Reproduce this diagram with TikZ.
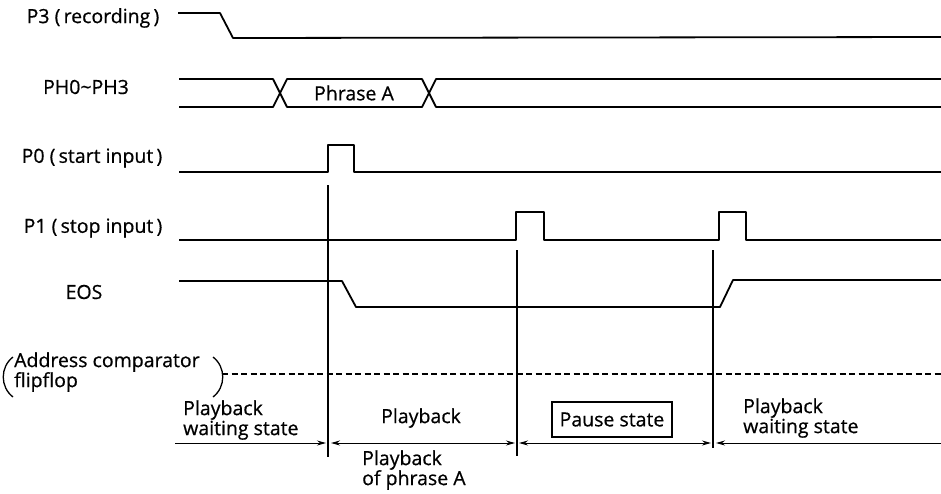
\documentclass[tikz,border=0pt]{standalone}
\usepackage{fontspec}
\setmainfont{Open Sans}[FakeBold=0.6]
\usetikzlibrary{arrows.meta}

\newcommand\lblfont{\fontsize{19.5pt}{20pt}\selectfont}

\tikzset{
  lbl/.style={font=\lblfont, inner sep=0pt},
  signal/.style={line width=1.8pt, line join=round},
  marker/.style={line width=1.3pt},
  span/.style={line width=1pt},
}

\begin{document}
\begin{tikzpicture}[x=1pt, y=-1pt, >={Stealth[length=9pt,width=5pt]}]
    \useasboundingbox (0,0) rectangle (941,493);

    % Signal names
    \node[lbl] (p3) at (93,18) {P3 (\,recording\,)};
    \node[lbl] (ph) at (86,87) {PH0\textasciitilde PH3};
    \node[lbl] (p0) at (92,158) {P0 (\,start input\,)};
    \node[lbl] (p1) at (93,228) {P1 (\,stop input\,)};
    \node[lbl] (eos) at (84,292) {EOS};
    \node[lbl, anchor=west, align=left] (acf) at (14,372) {Address comparator\\flipflop};
    \draw[marker] (13,357) .. controls (0,367) and (0,387) .. (13,397);
    \draw[marker] (213,357) .. controls (226,367) and (226,387) .. (213,397);

    % Waveforms
    \draw[signal] (178,13) -- (220,13) -- (233,38) -- (941,37);
    \draw[signal] (179,79) -- (273,79) -- (287,107) -- (422,107) -- (436,79) -- (941,79);
    \draw[signal] (179,107) -- (273,107) -- (287,79) -- (422,79) -- (436,107) -- (941,107);
    \node[lbl] (phrA) at (354,93) {Phrase A};
    \draw[signal] (179,172) -- (328,172) -- (328,145) -- (354,145) -- (354,172) -- (941,172);
    \draw[signal] (179,240) -- (516,240) -- (516,212) -- (544,212) -- (544,240)
        -- (719,240) -- (719,212) -- (746,212) -- (746,240) -- (941,240);
    \draw[signal] (179,281) -- (342,281) -- (356,307) -- (720,307) -- (733,280) -- (941,280);
    \draw[marker, dash pattern=on 6pt off 3.5pt] (222,374) -- (941,374);

    % Marker lines
    \coordinate (m0) at (328,185);
    \coordinate (m0b) at (328,457);
    \coordinate (m1) at (517,250);
    \coordinate (m1b) at (517,456);
    \coordinate (m2) at (713,250);
    \coordinate (m2b) at (713,448);
    \draw[marker] (m0) -- (m0b);
    \draw[marker] (m1) -- (m1b);
    \draw[marker] (m2) -- (m2b);

    % State spans
    \coordinate (s0) at (175,443);
    \coordinate (s1) at (326,443);
    \coordinate (s2) at (331,443);
    \coordinate (s3) at (515,443);
    \coordinate (s4) at (519,443);
    \coordinate (s5) at (711,443);
    \coordinate (s6) at (716,443);
    \coordinate (s7) at (941,443);
    \draw[span, ->] (s0) -- (s1);
    \draw[span, <->] (s2) -- (s3);
    \draw[span, <->] (s4) -- (s5);
    \draw[span, <-] (s6) -- (s7);

    % State names
    \node[lbl, anchor=west, align=left] (wait1) at (183,420) {Playback\\waiting state};
    \node[lbl] (play) at (421,418) {Playback};
    \node[lbl, anchor=west, align=left] (playA) at (362,470) {Playback\\of phrase A};
    \node[lbl, draw, line width=1.2pt, minimum width=120pt, minimum height=35pt] (pause) at (612,419.5) {Pause state};
    \node[lbl, anchor=west, align=left] (wait2) at (743,418) {Playback\\waiting state};

\end{tikzpicture}
\end{document}
